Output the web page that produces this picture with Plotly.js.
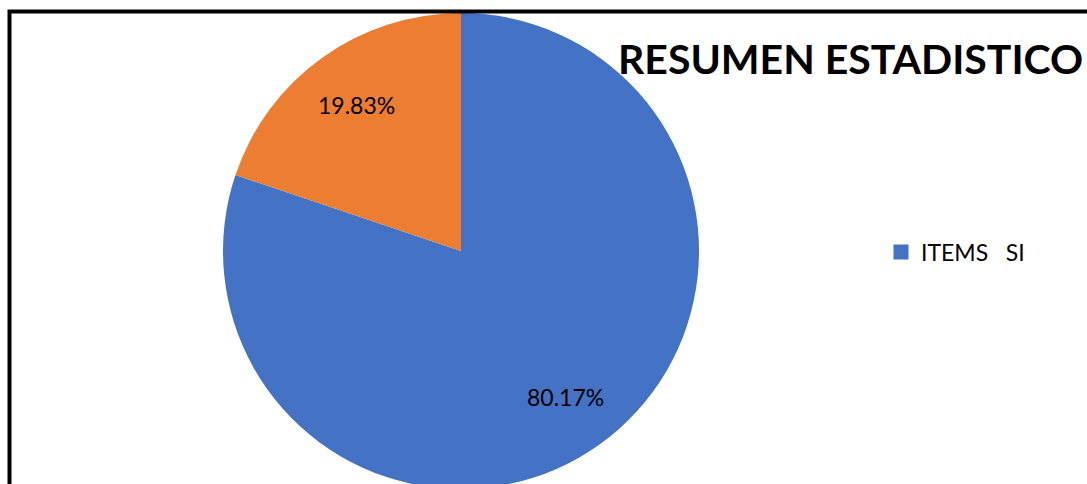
<!DOCTYPE html>
<html>
<head>
<meta charset="utf-8">
<script src="https://cdn.plot.ly/plotly-3.0.1.min.js"></script>
<style>
html, body { margin: 0; padding: 0; overflow: hidden; background: #ffffff; }
#chart { width: 1087px; height: 520px; }
</style>
</head>
<body>
<div id="chart"></div>
<script>
const categories = ["ITEMS   SI", "ITEMS   NO"];
const values = [80.17, 19.83];
const colors = ["#4472C4", "#ED7D31"];
const legendLabels = ["ITEMS   SI"];
const chartTitle = "RESUMEN ESTADISTICO";

const W = 1087, H = 520, mt = 13, mb = 31;
const plotH = H - mt - mb;
const cx = 461, cy = mt + 238, R = 238;

const pie = {
  type: "pie",
  labels: categories,
  values: values,
  sort: false,
  direction: "clockwise",
  rotation: 0,
  marker: { colors: colors, line: { width: 0 } },
  textinfo: "none",
  showlegend: false,
  hoverinfo: "label+percent",
  domain: { x: [(cx - R) / W, (cx + R) / W], y: [0, 1] }
};

const legendTrace = {
  type: "scatter",
  mode: "markers",
  x: [null], y: [null],
  name: legendLabels[0],
  marker: { symbol: "square", size: 15, color: colors[0] },
  showlegend: true,
  hoverinfo: "skip"
};

const px2x = p => p / W;
const px2y = p => (H - mb - p) / plotH;

// percentage labels placed at the mid-angle of each slice (Excel-like best fit)
const total = values.reduce((a, b) => a + b, 0);
const labelAnns = [];
let cum = 0;
values.forEach((v, i) => {
  const mid = (cum + v / 2) / total * 2 * Math.PI;
  cum += v;
  const rr = 0.755 * R;
  const lx = cx + rr * Math.sin(mid);
  const ly = cy - rr * Math.cos(mid);
  labelAnns.push({
    text: (v / total * 100).toFixed(2) + "%",
    xref: "paper", yref: "paper",
    x: px2x(lx), y: px2y(ly), xanchor: "center", yanchor: "middle",
    showarrow: false,
    font: { family: "Lato, 'Open Sans', sans-serif", size: 23, color: "#000000" }
  });
});

const layout = {
  width: W, height: H,
  margin: { l: 0, r: 0, t: mt, b: mb, pad: 0 },
  paper_bgcolor: "#ffffff",
  plot_bgcolor: "#ffffff",
  xaxis: { visible: false },
  yaxis: { visible: false },
  showlegend: true,
  legend: {
    x: px2x(881), y: px2y(252), xanchor: "left", yanchor: "middle",
    font: { family: "Lato, 'Open Sans', sans-serif", size: 23, color: "#000000" },
    bgcolor: "rgba(0,0,0,0)"
  },
  annotations: labelAnns.concat([{
    text: "<b>" + chartTitle + "</b>",
    xref: "paper", yref: "paper",
    x: px2x(1085), y: px2y(58), xanchor: "right", yanchor: "middle",
    showarrow: false,
    font: { family: "Lato, 'Open Sans', sans-serif", size: 41, color: "#000000" }
  }]),
  shapes: [{
    type: "rect", xref: "paper", yref: "paper",
    x0: px2x(9.5), x1: px2x(1200), y0: px2y(700), y1: px2y(11.5),
    line: { color: "#000000", width: 4 }, fillcolor: "rgba(0,0,0,0)",
    layer: "above"
  }]
};

Plotly.newPlot("chart", [pie, legendTrace], layout, { displayModeBar: false, staticPlot: true });
</script>
</body>
</html>
